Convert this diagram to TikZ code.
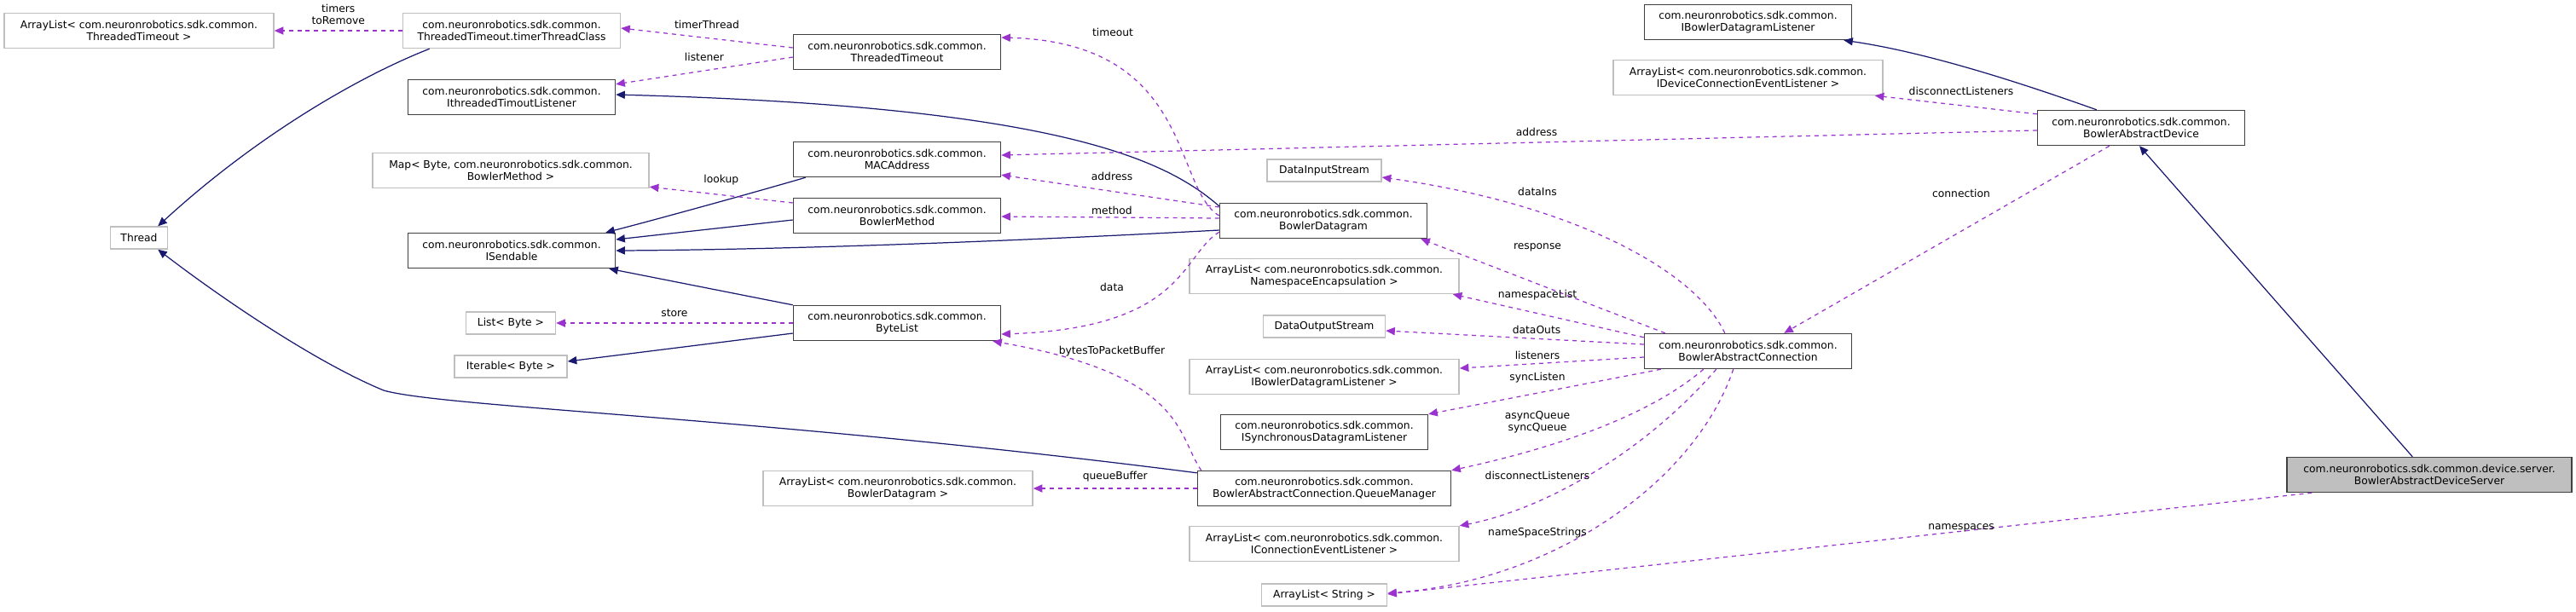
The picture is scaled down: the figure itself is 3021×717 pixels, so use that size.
\documentclass[tikz,border=0pt]{standalone}
\usepackage{fontspec}
\setmainfont{DejaVu Sans}
\usetikzlibrary{arrows.meta,calc}
\definecolor{inhc}{HTML}{191970}
\definecolor{usec}{HTML}{9A32CD}
\definecolor{gbd}{HTML}{BFBFBF}
\definecolor{bbd}{HTML}{404040}
\begin{document}
\begin{tikzpicture}[x=0.01cm,y=-0.01cm,
  font=\fontsize{3.5pt}{3.9pt}\selectfont,
  bx/.style={draw=bbd,line width=0.4pt,align=center,inner sep=0pt},
  gx/.style={draw=gbd,line width=0.4pt,align=center,inner sep=0pt},
  inh/.style={draw=inhc,line width=0.35pt,-{Triangle[length=3pt,width=2.6pt]}},
  use/.style={draw=usec,line width=0.35pt,dash pattern=on 1.4pt off 1.4pt,-{Triangle[length=3pt,width=2.6pt]}},
  lb/.style={inner sep=0pt,align=center}]
\useasboundingbox (0,0) rectangle (3021,717);
% nodes
\node[gx,minimum width=316\pgflinewidth*0+3.16cm,minimum height=0.41cm] (altt) at (163,36) {ArrayList< com.neuronrobotics.sdk.common.\\ThreadedTimeout >};
\node[gx,minimum width=2.55cm,minimum height=0.41cm] (ttc) at (600,36) {com.neuronrobotics.sdk.common.\\ThreadedTimeout.timerThreadClass};
\node[bx,minimum width=2.43cm,minimum height=0.41cm] (ittl) at (600,114) {com.neuronrobotics.sdk.common.\\IthreadedTimoutListener};
\node[gx,minimum width=3.24cm,minimum height=0.41cm] (map) at (599,200) {Map< Byte, com.neuronrobotics.sdk.common.\\BowlerMethod >};
\node[gx,minimum width=0.67cm,minimum height=0.26cm] (thread) at (163,279) {Thread};
\node[bx,minimum width=2.43cm,minimum height=0.41cm] (isend) at (600,294) {com.neuronrobotics.sdk.common.\\ISendable};
\node[gx,minimum width=1.05cm,minimum height=0.26cm] (list) at (599,379) {List< Byte >};
\node[gx,minimum width=1.32cm,minimum height=0.26cm] (iter) at (599,430) {Iterable< Byte >};
\node[bx,minimum width=2.43cm,minimum height=0.41cm] (tt) at (1052,61) {com.neuronrobotics.sdk.common.\\ThreadedTimeout};
\node[bx,minimum width=2.43cm,minimum height=0.41cm] (mac) at (1052,187) {com.neuronrobotics.sdk.common.\\MACAddress};
\node[bx,minimum width=2.43cm,minimum height=0.41cm] (bm) at (1052,253) {com.neuronrobotics.sdk.common.\\BowlerMethod};
\node[bx,minimum width=2.43cm,minimum height=0.41cm] (bl) at (1052,379) {com.neuronrobotics.sdk.common.\\ByteList};
\node[gx,minimum width=3.16cm,minimum height=0.41cm] (albd) at (1053,573) {ArrayList< com.neuronrobotics.sdk.common.\\BowlerDatagram >};
\node[gx,minimum width=1.34cm,minimum height=0.26cm] (dis) at (1553,200) {DataInputStream};
\node[bx,minimum width=2.43cm,minimum height=0.41cm] (bd) at (1552,259) {com.neuronrobotics.sdk.common.\\BowlerDatagram};
\node[gx,minimum width=3.16cm,minimum height=0.41cm] (alne) at (1553,324) {ArrayList< com.neuronrobotics.sdk.common.\\NamespaceEncapsulation >};
\node[gx,minimum width=1.43cm,minimum height=0.26cm] (dos) at (1553,383) {DataOutputStream};
\node[gx,minimum width=3.16cm,minimum height=0.41cm] (alibdl) at (1553,442) {ArrayList< com.neuronrobotics.sdk.common.\\IBowlerDatagramListener >};
\node[bx,minimum width=2.43cm,minimum height=0.41cm] (isync) at (1553,507) {com.neuronrobotics.sdk.common.\\ISynchronousDatagramListener};
\node[bx,minimum width=2.97cm,minimum height=0.41cm] (qm) at (1553,573) {com.neuronrobotics.sdk.common.\\BowlerAbstractConnection.QueueManager};
\node[gx,minimum width=3.16cm,minimum height=0.41cm] (alcel) at (1553,638) {ArrayList< com.neuronrobotics.sdk.common.\\IConnectionEventListener >};
\node[gx,minimum width=1.47cm,minimum height=0.26cm] (als) at (1553,698) {ArrayList< String >};
\node[bx,minimum width=2.43cm,minimum height=0.41cm] (ibdl) at (2050,26) {com.neuronrobotics.sdk.common.\\IBowlerDatagramListener};
\node[gx,minimum width=3.16cm,minimum height=0.41cm] (alidcel) at (2050,91) {ArrayList< com.neuronrobotics.sdk.common.\\IDeviceConnectionEventListener >};
\node[bx,minimum width=2.43cm,minimum height=0.41cm] (bac) at (2050,412) {com.neuronrobotics.sdk.common.\\BowlerAbstractConnection};
\node[bx,minimum width=2.43cm,minimum height=0.41cm] (bad) at (2511,150) {com.neuronrobotics.sdk.common.\\BowlerAbstractDevice};
\node[bx,fill=gbd,minimum width=3.34cm,minimum height=0.41cm] (bads) at (2849,557) {com.neuronrobotics.sdk.common.device.server.\\BowlerAbstractDeviceServer};
% inheritance
\draw[inh] ($(ttc.south west)+(32,0)$) .. controls (420,90) and (300,160) .. ($(thread.north east)+(-12,0)$);
\draw[inh] ($(qm.north west)+(0,3)$) .. controls (900,490) and (520,478) .. (450,458) .. controls (370,425) and (260,350) .. ($(thread.south east)+(-12,0)$);
\draw[inh] ($(bd.north west)+(0,4)$) .. controls (1370,190) and (1250,125) .. ($(ittl.east)+(0,-3)$);
\draw[inh] ($(mac.south west)+(15,0)$) .. controls (870,230) and (760,260) .. ($(isend.north east)+(-12,0)$);
\draw[inh] ($(bm.west)+(0,5)$) -- ($(isend.east)+(0,-13)$);
\draw[inh] ($(bd.west)+(0,11)$) .. controls (1150,285) and (900,293) .. (isend.east);
\draw[inh] ($(bl.north west)+(0,0)$) -- ($(isend.south east)+(-8,0)$);
\draw[inh] ($(bl.west)+(0,12)$) -- ($(iter.east)+(0,-6)$);
\draw[inh] ($(bad.north west)+(70,0)$) .. controls (2350,90) and (2250,60) .. ($(ibdl.south east)+(-10,0)$);
\draw[inh] ($(bads.north west)+(148,0)$) -- ($(bad.south)+(-2,0)$);
% usage
\draw[use] (ttc.west) -- (altt.east) node[lb,pos=0.5,above=2pt] {timers\\toRemove};
\draw[use] ($(tt.west)+(0,-5)$) -- ($(ttc.east)+(0,-3)$) node[lb,pos=0.5,above=3pt] {timerThread};
\draw[use] ($(tt.west)+(0,6)$) -- ($(ittl.north east)+(0,6)$) node[lb,pos=0.5,above=3pt] {listener};
\draw[use] ($(bd.west)+(0,-6)$) .. controls (1375,220) and (1400,50) .. ($(tt.east)+(0,-17)$);
\node[lb] at (1305,38) {timeout};
\draw[use] ($(bad.west)+(0,3)$) -- ($(mac.east)+(0,-5)$);
\node[lb] at (1802,155) {address};
\draw[use] ($(bd.west)+(0,-16)$) -- ($(mac.south east)+(0,-3)$);
\node[lb] at (1304,207) {address};
\draw[use] ($(bd.west)+(0,-3)$) -- ($(bm.east)+(0,1)$);
\node[lb] at (1304,247) {method};
\draw[use] ($(bm.west)+(0,-15)$) -- ($(map.south east)+(0,-2)$) node[lb,pos=0.5,above=3pt] {lookup};
\draw[use] ($(bd.south west)+(0,-8)$) .. controls (1385,300) and (1390,385) .. ($(bl.east)+(0,13)$);
\node[lb] at (1304,337) {data};
\draw[use] (bl.west) -- (list.east) node[lb,pos=0.5,above=2pt] {store};
\draw[use] ($(qm.north west)+(5,0)$) .. controls (1380,510) and (1390,440) .. ($(bl.south east)+(-10,0)$);
\node[lb] at (1304,412) {bytesToPacketBuffer};
\draw[use] (qm.west) -- (albd.east) node[lb,pos=0.5,above=2pt] {queueBuffer};
\draw[use] ($(bac.north west)+(95,0)$) .. controls (1990,320) and (1850,240) .. ($(dis.east)+(0,8)$);
\node[lb] at (1803,225) {dataIns};
\draw[use] ($(bac.north west)+(25,0)$) -- ($(bd.south east)+(-8,0)$);
\node[lb] at (1803,290) {response};
\draw[use] ($(bac.north west)+(0,5)$) -- ($(alne.south east)+(-8,0)$);
\node[lb] at (1803,346) {namespaceList};
\draw[use] ($(bac.west)+(0,-8)$) -- ($(dos.east)+(0,5)$);
\node[lb] at (1802,387) {dataOuts};
\draw[use] ($(bac.west)+(0,7)$) -- ($(alibdl.east)+(0,-10)$);
\node[lb] at (1803,417) {listeners};
\draw[use] ($(bac.south west)+(20,0)$) -- ($(isync.north east)+(0,0)$);
\node[lb] at (1803,443) {syncListen};
\draw[use] ($(bac.south west)+(70,0)$) .. controls (1920,500) and (1780,535) .. ($(qm.north east)+(0,0)$);
\node[lb] at (1803,495) {asyncQueue\\syncQueue};
\draw[use] ($(bac.south west)+(85,0)$) .. controls (1920,540) and (1800,600) .. ($(alcel.north east)+(0,0)$);
\node[lb] at (1803,558) {disconnectListeners};
\draw[use] ($(bac.south west)+(105,0)$) .. controls (1990,560) and (1830,680) .. ($(als.east)+(0,-2)$);
\node[lb] at (1803,625) {nameSpaceStrings};
\draw[use] ($(bad.north west)+(0,5)$) -- ($(alidcel.south east)+(-10,0)$);
\node[lb] at (2300,107) {disconnectListeners};
\draw[use] ($(bad.south west)+(85,0)$) -- ($(bac.north east)+(-80,0)$);
\node[lb] at (2300,227) {connection};
\draw[use] ($(bads.south west)+(30,0)$) -- ($(als.east)+(0,-1)$);
\node[lb] at (2300,619) {namespaces};
\end{tikzpicture}
\end{document}
